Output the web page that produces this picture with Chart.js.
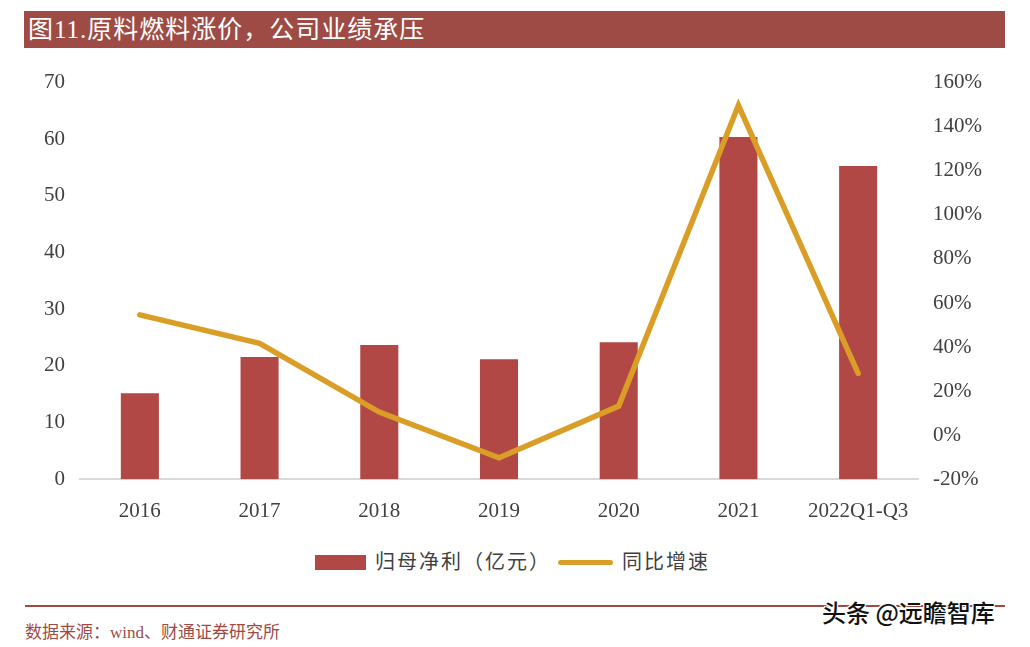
<!DOCTYPE html>
<html>
<head>
<meta charset="utf-8">
<script src="https://cdn.jsdelivr.net/npm/chart.js@4.4.0/dist/chart.umd.min.js"></script>
<style>
  body { margin: 0; background: #fff; width: 1030px; height: 647px; position: relative; overflow: hidden; }
  #title { position: absolute; left: 24px; top: 11px; width: 981px; height: 37px; background: #9E4B45;
           color: #fff; font: 25px "Liberation Serif", "Noto Sans CJK SC", serif; line-height: 37px;
           padding-left: 4px; box-sizing: border-box; letter-spacing: 1px; }
  #wrap { position: absolute; left: 0; top: 55px; width: 1030px; height: 480px; }
  #legend { position: absolute; top: 548px; left: 0; width: 1030px; height: 28px;
            font: 20px "Liberation Serif", "Noto Sans CJK SC", serif; color: #404040; }
  .item { position: absolute; top: 0; line-height: 28px; white-space: nowrap; letter-spacing: 2px; }
  #rule { position: absolute; left: 25px; top: 605px; width: 980px; height: 2px; background: #9E4B45; }
  #source { position: absolute; left: 25px; top: 618px; font: 17px "Liberation Serif", "Noto Sans CJK SC", serif;
            color: #9E4B45; }
  #mark { position: absolute; left: 822px; top: 594px; font: 500 24px "Noto Sans CJK SC", sans-serif; color: #111;
          text-shadow: 1px 1px 0 #fff, -1px -1px 0 #fff, 1px -1px 0 #fff, -1px 1px 0 #fff; }
</style>
</head>
<body>
<div id="title">图11.原料燃料涨价，公司业绩承压</div>
<div id="wrap"><canvas id="myChart"></canvas></div>
<div id="legend"></div>
<div id="rule"></div>
<div id="source">数据来源：wind、财通证券研究所</div>
<div id="mark">头条 @远瞻智库</div>
<script>
const categories = ['2016', '2017', '2018', '2019', '2020', '2021', '2022Q1-Q3'];
const profit = [15.2, 21.6, 23.7, 21.2, 24.2, 60.4, 55.3];
const growth = [54.6, 41.7, 10.5, -10.2, 13.2, 149.7, 28.1];
const profitLabel = '归母净利（亿元）';
const growthLabel = '同比增速';

const barColor = '#B24846';
const lineColor = '#DA9E26';
const tickFont = { family: 'Liberation Serif', size: 21 };
const tickColor = '#404040';

var ctx = document.getElementById('myChart').getContext('2d');
var myChart = new Chart(ctx, {
    type: 'bar',
    data: {
        labels: categories,
        datasets: [{
            type: 'line',
            label: growthLabel,
            data: growth,
            yAxisID: 'y2',
            borderColor: lineColor,
            backgroundColor: lineColor,
            borderWidth: 5.5,
            borderCapStyle: 'round',
            borderJoinStyle: 'miter',
            pointRadius: 0,
            tension: 0,
            order: 0
        }, {
            label: profitLabel,
            data: profit,
            yAxisID: 'y',
            backgroundColor: barColor,
            categoryPercentage: 1,
            barPercentage: 0.318,
            order: 1
        }]
    },
    options: {
        responsive: true,
        maintainAspectRatio: false,
        animation: false,
        layout: { padding: 0 },
        plugins: {
            legend: { display: false },
            tooltip: { enabled: false }
        },
        scales: {
            x: {
                grid: { display: false, drawTicks: false },
                border: { display: true, color: '#D9D9D9', width: 2 },
                ticks: { font: tickFont, color: tickColor, padding: 20, maxRotation: 0 },
                afterFit: function(scale) { scale.height = 55.7; }
            },
            y: {
                position: 'left',
                min: 0, max: 70,
                grid: { display: false, drawTicks: false },
                border: { display: false },
                ticks: { stepSize: 10, font: tickFont, color: tickColor, padding: 15 },
                afterFit: function(scale) { scale.width = 80; }
            },
            y2: {
                position: 'right',
                min: -20, max: 160,
                grid: { display: false, drawTicks: false },
                border: { display: false },
                ticks: { stepSize: 20, font: tickFont, color: tickColor, padding: 15,
                         callback: function(v) { return v + '%'; } },
                afterFit: function(scale) { scale.width = 112; }
            }
        }
    }
});

var legend = document.getElementById('legend');
legend.innerHTML =
    `<div class="item" style="left:315px"><span style="display:inline-block;width:51px;height:15px;background:${barColor};vertical-align:middle;margin-right:9px;position:relative;top:-2px"></span>${profitLabel}</div>` +
    `<div class="item" style="left:558px"><span style="display:inline-block;width:55px;height:5px;border-radius:3px;background:${lineColor};vertical-align:middle;margin-right:9px;position:relative;top:-2px"></span>${growthLabel}</div>`;
</script>
</body>
</html>
